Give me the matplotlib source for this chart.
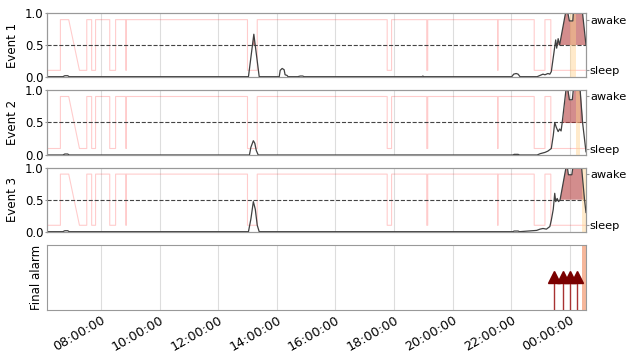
import matplotlib
matplotlib.use("Agg")
import matplotlib.pyplot as plt
import matplotlib.dates as mdates
import pandas as pd
import numpy as np

# ---- data -------------------------------------------------------------
day = "2021-03-01"
start_time = "06:09"
end_time = "00:33"

# sleep/awake status (0.1 = sleep, 0.9 = awake)
status_times = ["06:09", "06:37", "06:37", "06:54", "07:16", "07:31", "07:31", "07:41",
                "07:41", "07:49", "07:49", "08:18", "08:18", "08:30", "08:30", "08:51",
                "08:51", "08:52", "08:52", "13:00", "13:00", "13:20", "13:20", "17:46",
                "17:46", "17:55", "17:55", "19:07", "19:07", "19:09", "19:09", "21:32",
                "21:32", "21:33", "21:33", "22:47", "22:47", "23:09", "23:09", "23:21",
                "23:21", "00:33"]
status_vals = [0.1, 0.1, 0.9, 0.9, 0.1, 0.1, 0.9, 0.9,
               0.1, 0.1, 0.9, 0.9, 0.1, 0.1, 0.9, 0.9,
               0.1, 0.1, 0.9, 0.9, 0.1, 0.1, 0.9, 0.9,
               0.1, 0.1, 0.9, 0.9, 0.1, 0.1, 0.9, 0.9,
               0.1, 0.1, 0.9, 0.9, 0.1, 0.1, 0.9, 0.9,
               0.1, 0.1]

# event probability curves
ev1_times = ["06:09", "06:42", "06:46", "06:52", "06:55", "13:02", "13:13", "13:24",
             "14:05", "14:07", "14:11", "14:15", "14:17", "14:21", "14:23", "14:43",
             "14:48", "14:53", "14:56", "18:57", "18:59", "19:01", "22:01", "22:05",
             "22:10", "22:14", "22:18", "22:53", "22:59", "23:05", "23:09", "23:15",
             "23:19", "23:22", "23:31", "23:33", "23:36", "23:39", "23:51", "23:56",
             "23:59", "00:06", "00:07", "00:26", "00:33"]
ev1_vals = [0.0, 0.0, 0.015, 0.015, 0.0, 0.0, 0.67, 0.0,
            0.0, 0.10, 0.13, 0.11, 0.03, 0.02, 0.0, 0.0,
            0.01, 0.01, 0.0, 0.0, 0.01, 0.0, 0.0, 0.04,
            0.05, 0.04, 0.0, 0.0, 0.02, 0.04, 0.03, 0.05,
            0.04, 0.08, 0.58, 0.45, 0.60, 0.50, 1.0, 1.0,
            0.88, 0.88, 1.0, 1.0, 0.5]

ev2_times = ["06:09", "06:42", "06:46", "06:52", "06:55", "13:04", "13:07", "13:12",
             "13:15", "13:18", "13:22", "22:03", "22:06", "22:14", "22:17", "22:53",
             "22:59", "23:09", "23:15", "23:22", "23:26", "23:29", "23:32", "23:36",
             "23:39", "23:42", "23:44", "23:52", "23:56", "23:59", "00:05", "00:07",
             "00:21", "00:26", "00:33"]
ev2_vals = [0.0, 0.0, 0.015, 0.015, 0.0, 0.0, 0.12, 0.22,
            0.18, 0.07, 0.0, 0.0, 0.01, 0.01, 0.0, 0.0,
            0.02, 0.04, 0.06, 0.10, 0.30, 0.50, 0.43, 0.36,
            0.40, 0.37, 0.48, 1.0, 1.0, 0.85, 0.85, 1.0,
            1.0, 0.5, 0.05]

ev3_times = ["06:09", "06:42", "06:46", "06:52", "06:55", "13:02", "13:07", "13:12",
             "13:16", "13:20", "13:24", "22:03", "22:06", "22:14", "22:17", "22:52",
             "22:59", "23:05", "23:12", "23:19", "23:22", "23:26", "23:29", "23:31",
             "23:34", "23:37", "23:40", "23:52", "23:55", "23:57", "00:04", "00:06",
             "00:24", "00:30", "00:33"]
ev3_vals = [0.0, 0.0, 0.015, 0.015, 0.0, 0.0, 0.20, 0.47,
            0.35, 0.10, 0.0, 0.0, 0.01, 0.01, 0.0, 0.02,
            0.04, 0.05, 0.04, 0.08, 0.18, 0.35, 0.60, 0.47,
            0.52, 0.47, 0.50, 1.0, 1.0, 0.89, 0.89, 1.0,
            1.0, 0.5, 0.3]

# highlighted windows per event
ev_windows = [("00:00", "00:12"), ("00:12", "00:20"), ("00:24", "00:33")]

# final alarms
alarm_times = ["23:27", "23:45", "00:01", "00:15"]
alarm_level = 0.5
final_window = ("00:24", "00:33")

event_names = ["Event 1", "Event 2", "Event 3"]


def to_dt(hhmm):
    t = pd.Timestamp(f"{day} {hhmm}")
    if t.hour < 6:
        t += pd.Timedelta(days=1)
    return t


def to_dts(lst):
    return pd.DatetimeIndex([to_dt(s) for s in lst])


# ---- figure -----------------------------------------------------------
plt.rcParams["font.family"] = ["DejaVu Sans"]
plt.rcParams["font.size"] = 8.5

fig = plt.figure(figsize=(6.28, 3.56), dpi=100)
L, W = 0.0744, 0.8587
rects = [(0.7846, 0.1780), (0.5646, 0.1826), (0.3492, 0.1797), (0.1306, 0.1826)]

spine_col = "#999999"
grid_col = "#dddddd"

xmin, xmax = to_dt(start_time), to_dt(end_time)
st_t = to_dts(status_times)
st_v = np.array(status_vals)

curves = [(ev1_times, ev1_vals), (ev2_times, ev2_vals), (ev3_times, ev3_vals)]

axes = []
for i, (ts, vs) in enumerate(curves):
    b, h = rects[i]
    ax = fig.add_axes([L, b, W, h], sharex=axes[0] if axes else None)
    axes.append(ax)
    t = to_dts(ts)
    v = np.array(vs)
    ax.grid(axis="x", color=grid_col, lw=0.8)
    ax.set_axisbelow(True)
    ax.plot(st_t, st_v, color="red", alpha=0.2, lw=0.8, zorder=2)
    ax.axhline(0.5, color="#444444", ls="--", lw=0.8, zorder=3)
    ax.fill_between(t, 0.5, v, where=v > 0.5, interpolate=True,
                    color="#b03030", alpha=0.55, lw=0, zorder=3)
    w0, w1 = ev_windows[i]
    ax.axvspan(to_dt(w0), to_dt(w1), color="#ffd28c", alpha=0.45, lw=0, zorder=4)
    ax.plot(t, v, color="#404040", lw=0.9, zorder=5)
    ax.set_ylim(0, 1)
    ax.set_yticks([0, 0.5, 1.0])
    ax.set_ylabel(event_names[i], labelpad=4)
    ax.tick_params(axis="x", labelbottom=False, length=0)
    ax.tick_params(axis="y", color=spine_col, length=1.5, pad=1)
    for s in ax.spines.values():
        s.set_color(spine_col)
    tw = ax.twinx()
    tw.set_ylim(0, 1)
    tw.set_yticks([0.1, 0.9])
    tw.set_yticklabels(["sleep", "awake"], fontsize=8.2)
    tw.tick_params(axis="y", color=spine_col, length=2, pad=0.8)
    for s in tw.spines.values():
        s.set_color(spine_col)

b, h = rects[3]
axa = fig.add_axes([L, b, W, h], sharex=axes[0])
axa.grid(axis="x", color=grid_col, lw=0.8)
axa.set_axisbelow(True)
at = to_dts(alarm_times)
axa.vlines(at, 0, alarm_level, color="#a83232", lw=1.0, zorder=3)
axa.plot(at, [alarm_level] * len(at), ls="none", marker="^", ms=8,
         color="#7a0000", zorder=4)
axa.axvspan(to_dt(final_window[0]), to_dt(final_window[1]),
            color="#f4a582", alpha=0.8, lw=0, zorder=2)
axa.set_ylim(0, 1)
axa.set_yticks([])
axa.set_ylabel("Final alarm", labelpad=3)
for s in axa.spines.values():
    s.set_color(spine_col)
axa.tick_params(axis="x", length=0, pad=3, labelsize=9.2)

axa.set_xlim(xmin, xmax)
axa.xaxis.set_major_locator(mdates.HourLocator(byhour=range(0, 24, 2)))
axa.xaxis.set_major_formatter(mdates.DateFormatter("%H:%M:%S"))
for lab in axa.get_xticklabels():
    lab.set_rotation(30)
    lab.set_ha("right")
    lab.set_rotation_mode("anchor")

fig.savefig("out.png", dpi=100)
